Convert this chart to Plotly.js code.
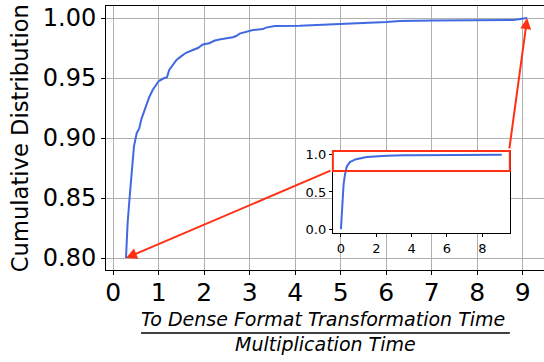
<!DOCTYPE html>
<html>
<head>
<meta charset="utf-8">
<script src="https://cdn.plot.ly/plotly-3.0.1.min.js"></script>
<style>html,body{margin:0;padding:0;background:#fff;}#chart{width:544px;height:362px;}</style>
</head>
<body>
<div id="chart"></div>
<script>
// Full cumulative distribution (ratio, cumulative fraction)
const cdfX = [0, 0.06, 0.15, 0.22, 0.28, 0.315, 0.367, 0.41, 0.455, 0.515, 0.57, 0.62, 0.72, 0.79, 0.866, 0.955, 1.0, 1.12, 1.18, 1.23, 1.31, 1.39, 1.49, 1.6, 1.75, 1.86, 1.97, 2.11, 2.22, 2.33, 2.63, 2.70, 2.78, 2.92, 3.07, 3.29, 3.36, 3.55, 4.1, 4.98, 5.42, 6.01, 6.3, 7.03, 8.8, 9.1];
const cdfY = [0, 0.30, 0.60, 0.72, 0.80, 0.829, 0.854, 0.873, 0.893, 0.904, 0.908, 0.916, 0.927, 0.934, 0.940, 0.9456, 0.9475, 0.950, 0.9505, 0.9567, 0.961, 0.965, 0.968, 0.971, 0.9733, 0.975, 0.978, 0.979, 0.981, 0.982, 0.984, 0.985, 0.987, 0.9886, 0.990, 0.9908, 0.992, 0.9933, 0.9936, 0.995, 0.9956, 0.9967, 0.9975, 0.998, 0.9983, 1.0];
const zoomFrom = 0.80;            // main panel shows the top of the distribution
const mainTicksY = [0.80, 0.85, 0.90, 0.95, 1.00];
const mainTicksX = [0, 1, 2, 3, 4, 5, 6, 7, 8, 9];
const insetTicksX = [0, 2, 4, 6, 8];
const insetTicksY = [0.0, 0.5, 1.0];
const yTitle = "Cumulative Distribution";
const numerator = "To Dense Format Transformation Time";
const denominator = "Multiplication Time";

const mainX = [], mainY = [];
cdfX.forEach((x, i) => { if (cdfY[i] >= zoomFrom) { mainX.push(x); mainY.push(cdfY[i]); } });

const blue = "#4169E1";
const red = "#ff3014";
const font = "DejaVu Sans, sans-serif";

const traces = [
  {x: mainX, y: mainY, xaxis: "x", yaxis: "y", mode: "lines", line: {color: blue, width: 2}, hoverinfo: "skip"},
  {x: cdfX, y: cdfY, xaxis: "x2", yaxis: "y2", mode: "lines", line: {color: blue, width: 2}, hoverinfo: "skip"}
];

const mainTail = [333, 171], mainHead = [127, 259];
const layout = {
  width: 544, height: 362,
  margin: {l: 106, r: 0, t: 6, b: 92},
  paper_bgcolor: "#fff", plot_bgcolor: "#fff",
  showlegend: false,
  font: {family: font, color: "#000"},
  xaxis: {
    range: [-0.16, 9.47], tickvals: mainTicksX, ticktext: mainTicksX.map(String),
    showgrid: true, gridcolor: "#b0b0b0", gridwidth: 1, zeroline: false,
    showline: true, linecolor: "#000", linewidth: 1, mirror: true,
    ticks: "outside", ticklen: 4, tickcolor: "#000", ticklabelstandoff: -4,
    tickfont: {size: 25, family: font, color: "#000"}
  },
  yaxis: {
    range: [0.79, 1.01], tickvals: mainTicksY, ticktext: mainTicksY.map(v => v.toFixed(2)),
    showgrid: true, gridcolor: "#b0b0b0", gridwidth: 1, zeroline: false,
    showline: true, linecolor: "#000", linewidth: 1,
    ticks: "outside", ticklen: 4, tickcolor: "#000",
    tickfont: {size: 24, family: font, color: "#000"}
  },
  xaxis2: {
    domain: [0.518, 0.922], anchor: "y2", range: [-0.455, 9.555],
    tickvals: insetTicksX, ticktext: insetTicksX.map(String),
    showgrid: false, zeroline: false, showline: true, linecolor: "#000", linewidth: 1, mirror: true,
    ticks: "outside", ticklen: 3, tickcolor: "#000",
    tickfont: {size: 13, family: font, color: "#000"}
  },
  yaxis2: {
    domain: [0.14, 0.451], anchor: "x2", range: [-0.05, 1.05],
    tickvals: insetTicksY, ticktext: insetTicksY.map(v => v.toFixed(1)),
    showgrid: false, zeroline: false, showline: true, linecolor: "#000", linewidth: 1, mirror: true,
    ticks: "outside", ticklen: 3, tickcolor: "#000",
    tickfont: {size: 13, family: font, color: "#000"}
  },
  shapes: [
    {type: "rect", xref: "paper", yref: "paper", x0: 0.518, x1: 0.922, y0: 0.375, y1: 0.451,
     line: {color: red, width: 2}, fillcolor: "rgba(0,0,0,0)", layer: "above"},
    {type: "line", xref: "paper", yref: "paper", x0: 0.080, x1: 0.922, y0: -0.2386, y1: -0.2386,
     line: {color: "#000", width: 1.5}}
  ],
  annotations: [
    {x: mainX[0], y: mainY[0], xref: "x", yref: "y", axref: "pixel", ayref: "pixel",
     ax: mainTail[0] - mainHead[0], ay: mainTail[1] - mainHead[1], text: "",
     showarrow: true, arrowcolor: red, arrowwidth: 2, arrowhead: 2, arrowsize: 1.1},
    {x: mainX[mainX.length - 1], y: mainY[mainY.length - 1], xref: "x", yref: "y",
     ax: -18, ay: 132, text: "",
     showarrow: true, arrowcolor: red, arrowwidth: 2, arrowhead: 2, arrowsize: 1.1},
    {x: -0.196, y: 0.5, xref: "paper", yref: "paper", text: yTitle, textangle: -90,
     showarrow: false, xanchor: "center", yanchor: "middle", font: {size: 22.6, family: font, color: "#000"}},
    {x: 0.4954, y: -0.187, xref: "paper", yref: "paper", text: "<i>" + numerator + "</i>",
     showarrow: false, xanchor: "center", yanchor: "middle", font: {size: 19, family: font, color: "#000"}},
    {x: 0.502, y: -0.282, xref: "paper", yref: "paper", text: "<i>" + denominator + "</i>",
     showarrow: false, xanchor: "center", yanchor: "middle", font: {size: 19, family: font, color: "#000"}}
  ]
};

Plotly.newPlot("chart", traces, layout, {staticPlot: true, displayModeBar: false});
</script>
</body>
</html>
